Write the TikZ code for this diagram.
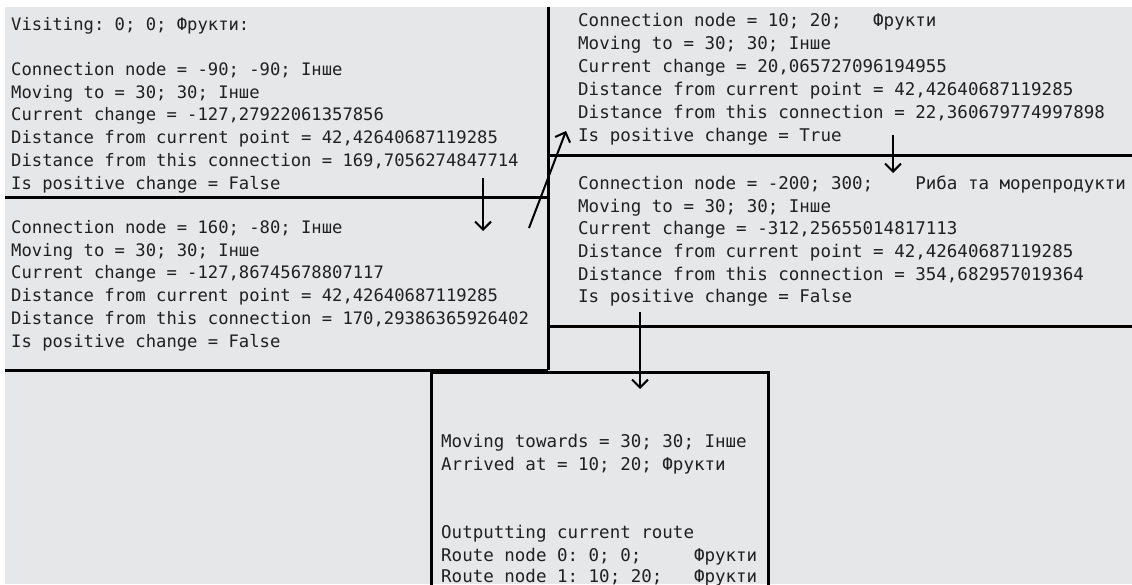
\documentclass[tikz,border=0pt]{standalone}
\usepackage{fontspec}
\usetikzlibrary{arrows.meta}
\newfontfamily\consfont{DejaVu Sans Mono}
\newcommand\monoL{\consfont\fontsize{17.2}{22.7}\selectfont\frenchspacing}
\newcommand\monoR{\consfont\fontsize{17.5}{23}\selectfont\frenchspacing}
\definecolor{bg}{RGB}{230,231,233}
\definecolor{txtcol}{RGB}{32,32,32}
\tikzset{
  txtL/.style={anchor=base west, inner sep=0pt, font=\monoL, text=txtcol},
  txtR/.style={anchor=base west, inner sep=0pt, font=\monoR, text=txtcol},
  border/.style={line width=3pt, draw=black},
  arr/.style={line width=2pt, draw=black, -{Straight Barb[length=8pt,width=16pt]}}
}
\begin{document}
\begin{tikzpicture}[x=1pt,y=-1pt]
\useasboundingbox (0,0) rectangle (1132,584);
\fill[bg] (5,7) rectangle (1132,584);

% box 1
\node[txtL] (b1a) at (11,30) {Visiting: 0; 0; Фрукти:};
\node[txtL] (b1b) at (11,75.5) {Connection node = -90; -90; Інше};
\node[txtL] (b1c) at (11,98.2) {Moving to = 30; 30; Інше};
\node[txtL] (b1d) at (11,120.9) {Current change = -127,27922061357856};
\node[txtL] (b1e) at (11,143.6) {Distance from current point = 42,42640687119285};
\node[txtL] (b1f) at (11,166.3) {Distance from this connection = 169,7056274847714};
\node[txtL] (b1g) at (11,189) {Is positive change = False};

% box 2
\node[txtL] (b2a) at (11,233.5) {Connection node = 160; -80; Інше};
\node[txtL] (b2b) at (11,256.2) {Moving to = 30; 30; Інше};
\node[txtL] (b2c) at (11,278.9) {Current change = -127,86745678807117};
\node[txtL] (b2d) at (11,301.6) {Distance from current point = 42,42640687119285};
\node[txtL] (b2e) at (11,324.3) {Distance from this connection = 170,29386365926402};
\node[txtL] (b2f) at (11,347) {Is positive change = False};

% box 3
\node[txtR] (b3a) at (578,26) {Connection node = 10; 20;~~~Фрукти};
\node[txtR] (b3b) at (578,49) {Moving to = 30; 30; Інше};
\node[txtR] (b3c) at (578,72) {Current change = 20,065727096194955};
\node[txtR] (b3d) at (578,95) {Distance from current point = 42,42640687119285};
\node[txtR] (b3e) at (578,118) {Distance from this connection = 22,360679774997898};
\node[txtR] (b3f) at (578,141) {Is positive change = True};

% box 4
\node[txtR] (b4a) at (578,189) {Connection node = -200; 300;~~~~Риба та морепродукти};
\node[txtR] (b4b) at (578,212) {Moving to = 30; 30; Інше};
\node[txtR] (b4c) at (578,234.5) {Current change = -312,25655014817113};
\node[txtR] (b4d) at (578,257) {Distance from current point = 42,42640687119285};
\node[txtR] (b4e) at (578,280) {Distance from this connection = 354,682957019364};
\node[txtR] (b4f) at (578,302) {Is positive change = False};

% box 5
\node[txtR] (b5a) at (441,447.5) {Moving towards = 30; 30; Інше};
\node[txtR] (b5b) at (441,470.3) {Arrived at = 10; 20; Фрукти};
\node[txtR] (b5c) at (441,538.5) {Outputting current route};
\node[txtR] (b5d) at (441,561.3) {Route node 0: 0; 0;~~~~~Фрукти};
\node[txtR] (b5e) at (441,582.5) {Route node 1: 10; 20;~~~Фрукти};

% separators
\coordinate (vTop) at (548,7);
\coordinate (vBot) at (548,370);
\coordinate (hLa) at (5,197);
\coordinate (hLb) at (548,197);
\coordinate (hRa) at (548,155);
\coordinate (hRb) at (1132,155);
\coordinate (hRc) at (548,326);
\coordinate (hRd) at (1132,326);
\coordinate (hLc) at (5,370);
\draw[border] (vTop) -- (vBot);
\draw[border] (hLa) -- (hLb);
\draw[border] (hRa) -- (hRb);
\draw[border] (hRc) -- (hRd);
\draw[border] (hLc) -- (vBot);
\coordinate (fbl) at (431,590);
\coordinate (ftl) at (431,372);
\coordinate (ftr) at (768,372);
\coordinate (fbr) at (768,590);
\draw[border] (fbl) -- (ftl) -- (ftr) -- (fbr);

% arrows
\coordinate (a1s) at (483,178);
\coordinate (a1e) at (483,231);
\coordinate (a2s) at (529,228);
\coordinate (a2e) at (566,131);
\coordinate (a3s) at (893,135);
\coordinate (a3e) at (893,173);
\coordinate (a4s) at (640,312);
\coordinate (a4e) at (640,389);
\draw[arr] (a1s) -- (a1e);
\draw[arr] (a2s) -- (a2e);
\draw[arr] (a3s) -- (a3e);
\draw[arr] (a4s) -- (a4e);
\end{tikzpicture}
\end{document}
